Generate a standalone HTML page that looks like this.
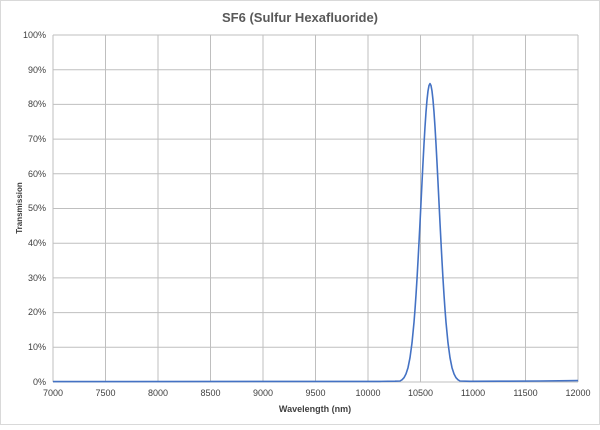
<!DOCTYPE html>
<html><head><style>
body{margin:0;background:#fff;font-family:"Liberation Sans",sans-serif}
</style></head><body>
<svg width="600" height="425" viewBox="0 0 600 425" xmlns="http://www.w3.org/2000/svg" font-family="Liberation Sans, sans-serif">
<rect x="0.5" y="0.5" width="599" height="424" fill="#fff" stroke="#d9d9d9"/>
<text x="300" y="22" text-anchor="middle" font-size="13" font-weight="bold" fill="#595959">SF6 (Sulfur Hexafluoride)</text>
<g stroke="#bfbfbf" stroke-width="1">
<line x1="53" y1="35" x2="578" y2="35"/><line x1="53" y1="69.7" x2="578" y2="69.7"/><line x1="53" y1="104.4" x2="578" y2="104.4"/><line x1="53" y1="139.1" x2="578" y2="139.1"/><line x1="53" y1="173.8" x2="578" y2="173.8"/><line x1="53" y1="208.5" x2="578" y2="208.5"/><line x1="53" y1="243.2" x2="578" y2="243.2"/><line x1="53" y1="277.9" x2="578" y2="277.9"/><line x1="53" y1="312.6" x2="578" y2="312.6"/><line x1="53" y1="347.3" x2="578" y2="347.3"/>
<line x1="53" y1="35" x2="53" y2="382"/><line x1="105.5" y1="35" x2="105.5" y2="382"/><line x1="158" y1="35" x2="158" y2="382"/><line x1="210.5" y1="35" x2="210.5" y2="382"/><line x1="263" y1="35" x2="263" y2="382"/><line x1="315.5" y1="35" x2="315.5" y2="382"/><line x1="368" y1="35" x2="368" y2="382"/><line x1="420.5" y1="35" x2="420.5" y2="382"/><line x1="473" y1="35" x2="473" y2="382"/><line x1="525.5" y1="35" x2="525.5" y2="382"/><line x1="578" y1="35" x2="578" y2="382"/>
</g>
<line x1="53" y1="382" x2="578" y2="382" stroke="#bfbfbf"/>
<g font-size="9" fill="#404040" text-anchor="end">
<text x="46" y="38">100%</text><text x="46" y="73">90%</text><text x="46" y="107">80%</text><text x="46" y="142">70%</text><text x="46" y="177">60%</text><text x="46" y="211">50%</text><text x="46" y="246">40%</text><text x="46" y="281">30%</text><text x="46" y="315">20%</text><text x="46" y="350">10%</text><text x="46" y="385">0%</text>
</g>
<g font-size="9" fill="#404040" text-anchor="middle">
<text x="53" y="396">7000</text><text x="105.5" y="396">7500</text><text x="158" y="396">8000</text><text x="210.5" y="396">8500</text><text x="263" y="396">9000</text><text x="315.5" y="396">9500</text><text x="368" y="396">10000</text><text x="420.5" y="396">10500</text><text x="473" y="396">11000</text><text x="525.5" y="396">11500</text><text x="578" y="396">12000</text>
</g>
<text x="315" y="412" text-anchor="middle" font-size="9" font-weight="bold" fill="#404040">Wavelength (nm)</text>
<text transform="translate(22,208) rotate(-90)" text-anchor="middle" font-size="8" font-weight="bold" fill="#404040">Transmission</text>
<polyline fill="none" stroke="#4472c4" stroke-width="1.6" stroke-linejoin="round" points="53,381.6 380,381.4 395,381.2 400,381 402,379.8 404,377.7 406,373.9 408,367.7 410,357.7 412,342.9 414,322.3 415,309.5 416,294.9 417,278.8 418,261.1 419,242.3 420,222.9 421,202.7 422,182.4 423,162.7 424,143.9 425,126.9 426,112.1 427,100 428,91 429,85.5 430,83.6 431,85.5 432,91 433,100 434,112.1 435,126.9 436,143.9 437,162.7 438,182.4 439,202.7 440,222.9 441,242.3 442,261.1 443,278.8 444,294.9 445,309.5 446,322.3 448,342.9 450,357.7 452,367.7 454,373.9 456,377.7 458,379.8 460,381 470,381.3 500,381.2 540,381 578,380.6"/>
</svg>
</body></html>
